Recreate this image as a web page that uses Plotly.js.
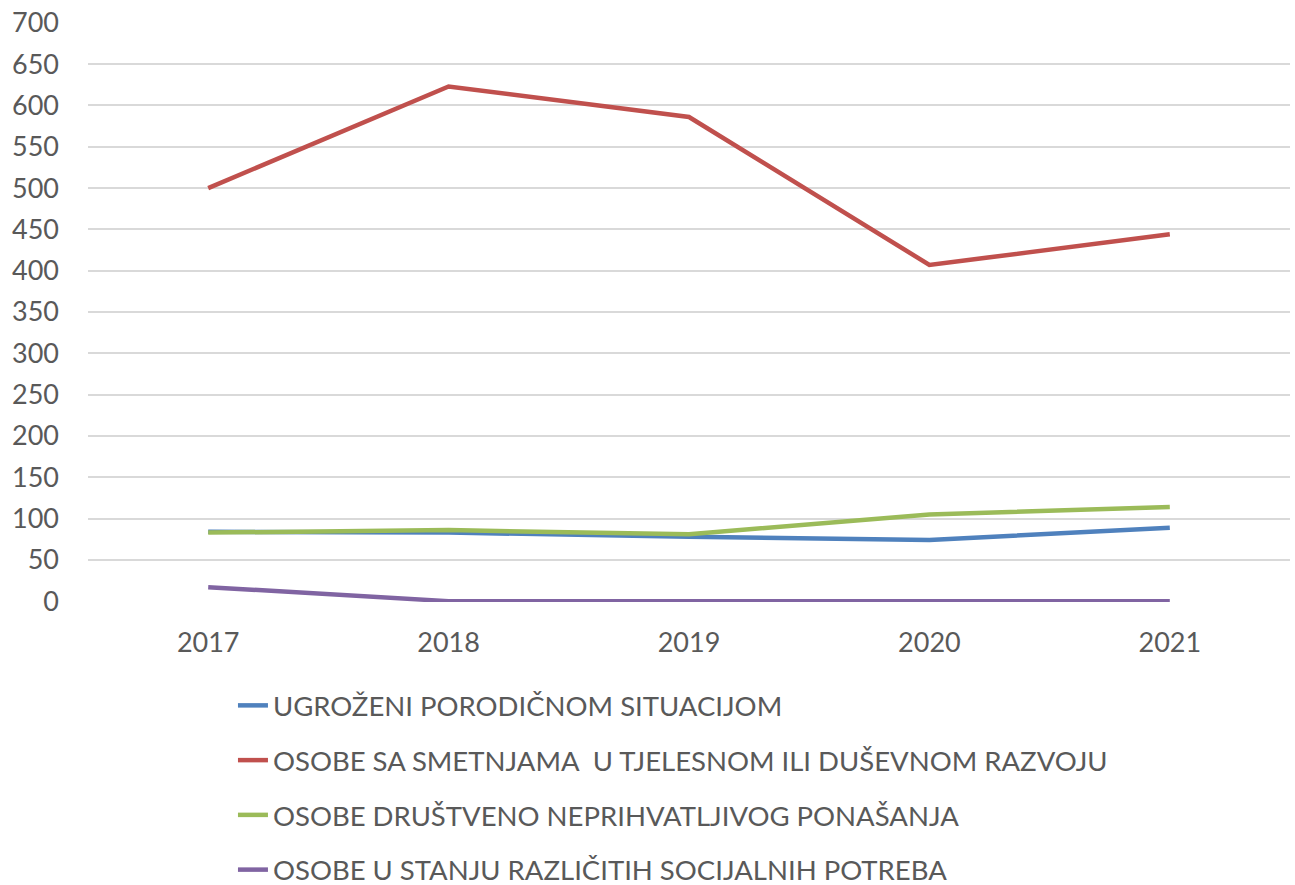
<!DOCTYPE html>
<html><head><meta charset="utf-8">
<script src="https://cdn.plot.ly/plotly-3.0.1.min.js"></script>
<style>html,body{margin:0;padding:0;background:#fff;overflow:hidden}#chart{width:1295px;height:905px}</style>
</head><body><div id="chart"></div>
<script>
const years = ['2017','2018','2019','2020','2021'];
const seriesNames = [
  'UGROŽENI PORODIČNOM SITUACIJOM',
  'OSOBE SA SMETNJAMA  U TJELESNOM ILI DUŠEVNOM RAZVOJU',
  'OSOBE DRUŠTVENO NEPRIHVATLJIVOG PONAŠANJA',
  'OSOBE U STANJU RAZLIČITIH SOCIJALNIH POTREBA'
];
const ugrozeni = [84, 83, 78, 74, 89];
const smetnje = [500, 623, 586, 407, 444];
const drustveno = [83, 86, 81, 105, 114];
const socijalne = [17, 0, 0, 0, 0];
const colors = ['#4f81bd', '#c0504d', '#9bbb59', '#8064a2'];
const allSeries = [ugrozeni, smetnje, drustveno, socijalne];
const font = 'Lato, "Open Sans", sans-serif';

const traces = allSeries.map((vals, i) => ({
  x: years, y: vals, name: seriesNames[i], type: 'scatter', mode: 'lines',
  line: {color: colors[i], width: 4.5}, legendgroup: 'g' + i
}));

const layout = {
  width: 1295, height: 905,
  margin: {l: 88, r: 5, t: 22, b: 303},
  paper_bgcolor: '#fff', plot_bgcolor: '#fff',
  font: {family: font, size: 27, color: '#595959'},
  showlegend: true,
  legend: {orientation: 'v', x: 0.1206, xanchor: 'left', y: -0.1362, yanchor: 'top',
           font: {family: font, size: 27.5, color: '#595959'}, tracegroupgap: 16,
           bgcolor: 'rgba(0,0,0,0)'},
  xaxis: {type: 'category', range: [-0.5, 4.5], showgrid: false, zeroline: false,
          showline: false, ticks: '', tickfont: {size: 27, color: '#595959'}, ticklabelstandoff: 22},
  yaxis: {range: [-1, 701], dtick: 50, showgrid: true, gridcolor: '#d9d9d9', gridwidth: 1.5,
          zeroline: false, showline: false, ticks: '', tickfont: {size: 27, color: '#595959'},
          ticklabelstandoff: 28}
};
Plotly.newPlot('chart', traces, layout, {displayModeBar: false});
</script></body></html>
